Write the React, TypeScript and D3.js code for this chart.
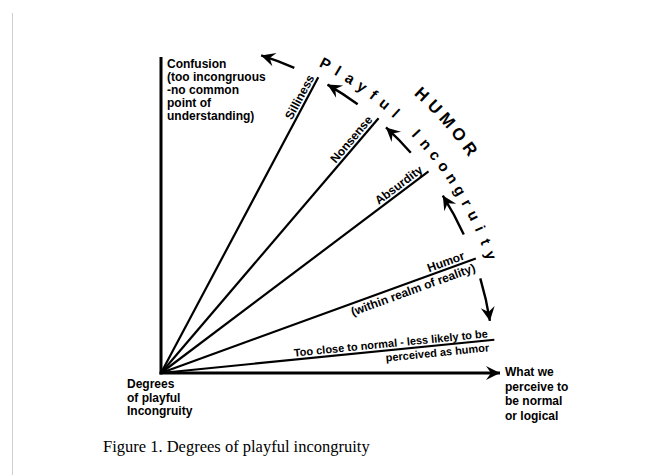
import React from "react";
import * as d3 from "d3";

// ---- data ----
const rayAngles = [62, 49.5, 37, 20, 5.7]; // degrees of elevation
const rayLabelsAbove = ["Silliness", "Nonsense", "Absurdity", "Humor", "Too close to normal - less likely to be"];
const rayLabelsBelow = ["", "", "", "(within realm of reality)", "perceived as humor"];
const rayLabelSizes = [12, 12, 12, 12, 11];
const rayLabelBack = [2, 5, 4, 10, 6];
const rayLabelBelowBack = [0, 0, 0, 4, 6];
const arrowArcs: [number, number][] = [
  [66.4, 72.5],
  [53.8, 60],
  [41.4, 47.5],
  [24.6, 32.2],
  [16.5, 9.0],
];
const confusionLines = ["Confusion", "(too incongruous", "-no common", "point of", "understanding)"];
const degreesLines = ["Degrees", "of playful", "Incongruity"];
const normalLines = ["What we", "perceive to", "be normal", "or logical"];
const arcTextInner = "Playful Incongruity";
const arcTextOuter = "HUMOR";
const caption = "Figure 1. Degrees of playful incongruity";

const W = 669;
const H = 475;
const ox = 161;
const oy = 373;
const rad = (deg: number) => (deg * Math.PI) / 180;
const rScale = d3.scaleLinear().domain([0, 1]).range([0, 335]);
const pt = (deg: number, r: number): [number, number] => [ox + r * Math.cos(rad(deg)), oy - r * Math.sin(rad(deg))];
const FONT = "'Liberation Sans', Arial, Helvetica, sans-serif";

function arcPath(r: number, fromDeg: number, toDeg: number) {
  const p = d3.path();
  p.arc(ox, oy, r, -rad(fromDeg), -rad(toDeg), toDeg > fromDeg);
  return p.toString();
}

function measure(str: string, font: string): number[] {
  const ctx = document.createElement("canvas").getContext("2d");
  if (!ctx) return [...str].map(() => 8);
  ctx.font = font;
  return [...str].map((ch) => ctx.measureText(ch).width);
}

// equal angular spacing of glyph centres along an arc, expressed as dx shifts along a textPath
function arcDx(str: string, font: string, r: number, pathStart: number, firstCentre: number, step: number) {
  const w = measure(str, font);
  const centre = d3.scaleLinear().domain([0, 1]).range([firstCentre, firstCentre - step]);
  const dx: number[] = [];
  let prevEnd = 0;
  w.forEach((wi, i) => {
    const d = r * rad(pathStart - centre(i));
    const start = d - wi / 2;
    dx.push(start - prevEnd);
    prevEnd = start + wi;
  });
  return dx.map((v) => v.toFixed(2)).join(" ");
}

const INNER_SIZE = 15;
const OUTER_SIZE = 17;
const INNER_FONT = `bold ${INNER_SIZE}px 'Liberation Sans'`;
const OUTER_FONT = `bold ${OUTER_SIZE}px 'Liberation Sans'`;

export default function App() {
  const line = d3.line();
  const innerDx = arcDx(arcTextInner, INNER_FONT, 345, 66, 62, 2.35);
  const outerDx = arcDx(arcTextOuter, OUTER_FONT, 376, 50, 46.9, 2.73);
  return (
    <svg width={W} height={H} style={{ position: "absolute", left: 0, top: 0, background: "#fff" }}>
      <defs>
        <marker id="ah" markerUnits="userSpaceOnUse" viewBox="-15 -8 17 16" refX="0" refY="0" markerWidth="17" markerHeight="16" orient="auto">
          <path d="M0,0 L-14,-7 L-9,0 L-14,7 Z" fill="#000" />
        </marker>
        <path id="innerArc" d={arcPath(345, 66, 5)} />
        <path id="outerArc" d={arcPath(376, 50, 20)} />
      </defs>
      <rect width={W} height={H} fill="#fff" />
      <line x1={12.5} y1={13} x2={12.5} y2={H} stroke="#cfcfcf" strokeWidth={1} />

      {/* axes */}
      <path d={line([[ox, 57], [ox, oy + 1.5]]) || ""} stroke="#000" strokeWidth={3} fill="none" />
      <path d={line([[ox - 1.5, oy], [500, oy]]) || ""} stroke="#000" strokeWidth={3} fill="none" markerEnd="url(#ah)" />

      {/* rays */}
      {rayAngles.map((a, i) => {
        const end = pt(a, rScale(1));
        return <path key={"r" + i} d={line([[ox, oy], end]) || ""} stroke="#000" strokeWidth={2.2} fill="none" />;
      })}

      {/* ray labels */}
      {rayAngles.map((a, i) => {
        const end = pt(a, rScale(1));
        return (
          <g key={"l" + i} transform={`translate(${end[0]},${end[1]}) rotate(${-a})`} fontFamily={FONT} fontWeight="bold" fontSize={rayLabelSizes[i]}>
            <text x={-rayLabelBack[i]} y={-3} textAnchor="end">{rayLabelsAbove[i]}</text>
            {rayLabelsBelow[i] && (
              <text x={-rayLabelBelowBack[i]} y={rayLabelSizes[i] === 12 ? 12 : 11} textAnchor="end">{rayLabelsBelow[i]}</text>
            )}
          </g>
        );
      })}

      {/* curved arrows */}
      {arrowArcs.map(([f, t], i) => (
        <path key={"a" + i} d={arcPath(333, f, t)} stroke="#000" strokeWidth={2.4} fill="none" markerEnd="url(#ah)" />
      ))}

      {/* arc texts */}
      <text fontFamily={FONT} fontWeight="bold" fontSize={INNER_SIZE}>
        <textPath href="#innerArc">
          <tspan dx={innerDx}>{arcTextInner}</tspan>
        </textPath>
      </text>
      <text fontFamily={FONT} fontWeight="bold" fontSize={OUTER_SIZE}>
        <textPath href="#outerArc">
          <tspan dx={outerDx}>{arcTextOuter}</tspan>
        </textPath>
      </text>

      {/* block labels */}
      <text fontFamily={FONT} fontWeight="bold" fontSize={12}>
        {confusionLines.map((s, i) => (
          <tspan key={i} x={167} y={68 + i * 13}>{s}</tspan>
        ))}
      </text>
      <text fontFamily={FONT} fontWeight="bold" fontSize={12}>
        {degreesLines.map((s, i) => (
          <tspan key={i} x={127} y={388 + i * 13.5}>{s}</tspan>
        ))}
      </text>
      <text fontFamily={FONT} fontWeight="bold" fontSize={12}>
        {normalLines.map((s, i) => (
          <tspan key={i} x={505} y={376 + i * 14.5}>{s}</tspan>
        ))}
      </text>

      <text x={103} y={452} fontFamily="'Liberation Serif', 'Times New Roman', serif" fontSize={16.5}>{caption}</text>
    </svg>
  );
}
